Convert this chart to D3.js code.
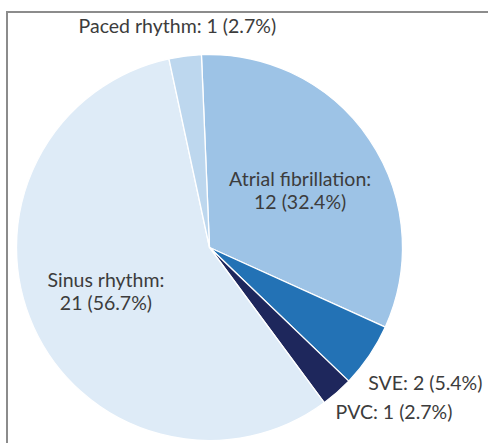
<!DOCTYPE html>
<html>
<head>
<meta charset="utf-8">
<script src="https://cdn.jsdelivr.net/npm/d3@7"></script>
<style>
  body { margin: 0; background: #fff; }
  svg { display: block; }
  text { font-family: Lato, "Open Sans", sans-serif; fill: #3c3c3c; }
</style>
</head>
<body>
<svg id="chart" width="488" height="443"></svg>
<script>
// slices, clockwise from 12 o'clock
var categories = ["Atrial fibrillation", "SVE", "PVC", "Sinus rhythm", "Paced rhythm"];
var counts = [12, 2, 1, 21, 1];
var percents = ["32.4%", "5.4%", "2.7%", "56.7%", "2.7%"];
var colors = ["#9dc3e6", "#2372b5", "#1e275c", "#deebf7", "#bdd7ee"];

// label placement: radius factor from centre, line layout
var labelRadius = [0.56, 1.32, 1.28, 0.58, 1.16];
var labelAngleShift = [1, -2, -7, 2, -1];
var twoLine = [true, false, false, true, false];

var svg = d3.select("#chart");
var width = +svg.attr("width");
var height = +svg.attr("height");

var cx = 209.5, cy = 247.5, radius = 193;
var rot = -2.4 * Math.PI / 180;

// frame lines (only top and left visible)
svg.append("line")
    .attr("x1", 7).attr("y1", 12).attr("x2", width).attr("y2", 12)
    .attr("stroke", "#8c8c8c").attr("stroke-width", 2);
svg.append("line")
    .attr("x1", 7).attr("y1", 11).attr("x2", 7).attr("y2", height)
    .attr("stroke", "#8c8c8c").attr("stroke-width", 2);

var pie = d3.pie()
    .sort(null)
    .startAngle(rot)
    .endAngle(rot + 2 * Math.PI)
    .value(function(d) { return d; });

var arc = d3.arc().innerRadius(0).outerRadius(radius);

var arcs = pie(counts);

var g = svg.append("g")
    .attr("transform", "translate(" + cx + "," + cy + ")");

g.selectAll("path")
    .data(arcs)
    .enter()
    .append("path")
    .attr("d", arc)
    .attr("fill", function(d, i) { return colors[i]; })
    .attr("stroke", "#fff")
    .attr("stroke-width", 1.3)
    .attr("stroke-linejoin", "round");

var labels = g.selectAll("text.lbl")
    .data(arcs)
    .enter()
    .append("text")
    .attr("class", "lbl")
    .attr("text-anchor", "middle")
    .style("font-size", "19.5px")
    .attr("transform", function(d, i) {
        var a = (d.startAngle + d.endAngle) / 2 + labelAngleShift[i] * Math.PI / 180;
        var r = radius * labelRadius[i];
        return "translate(" + (r * Math.sin(a)) + "," + (-r * Math.cos(a)) + ")";
    });

labels.each(function(d, i) {
    var t = d3.select(this);
    if (twoLine[i]) {
        t.append("tspan").attr("x", 0).attr("dy", "-0.15em")
            .text(categories[i] + ":");
        t.append("tspan").attr("x", 0).attr("dy", "1.2em")
            .text(counts[i] + " (" + percents[i] + ")");
    } else {
        t.append("tspan").attr("x", 0).attr("dy", "0.35em")
            .text(categories[i] + ": " + counts[i] + " (" + percents[i] + ")");
    }
});
</script>
</body>
</html>
